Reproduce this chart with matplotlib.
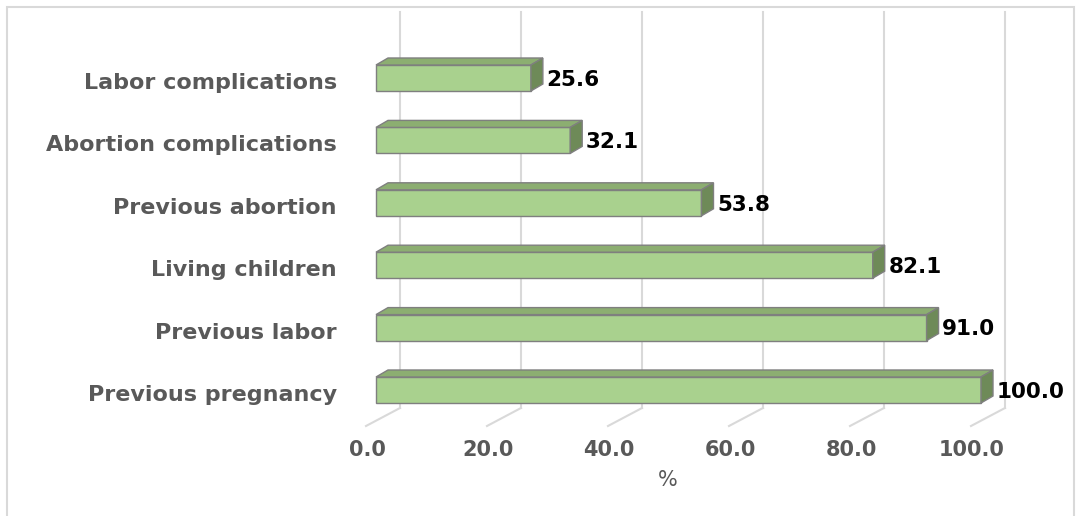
import numpy as np
import matplotlib.pyplot as plt
from matplotlib.patches import Polygon, Rectangle

categories = ['Previous pregnancy', 'Previous labor', 'Living children',
              'Previous abortion', 'Abortion complications', 'Labor complications']
values = [100.0, 91.0, 82.1, 53.8, 32.1, 25.6]
ticks = [0, 20, 40, 60, 80, 100]
tick_labels = ['0.0', '20.0', '40.0', '60.0', '80.0', '100.0']

front = '#A9D18E'
top_c = '#8CAE71'
side_c = '#6E8A58'
edge = '#7F7F7F'
grid_c = '#D9D9D9'
text_c = '#595959'

W, H = 1078, 516
fig = plt.figure(figsize=(W / 100, H / 100), dpi=100)
ax = fig.add_axes([0, 0, 1, 1])

# px -> data scaling: 6.05 px per %, 62.4 px per category
sx, sy = 6.05, 62.4
x0_px, y0_px = 376, 390
ax.set_xlim(-x0_px / sx, (W - x0_px) / sx)
ax.set_ylim((y0_px - H) / sy, y0_px / sy)
ax.axis('off')

h = 26 / sy          # bar front height
dx, dy = 12 / sx, 7 / sy   # bar depth

# back wall gridlines + floor diagonals
for t in ticks:
    bx = t + 24 / sx
    ax.plot([bx, bx], [(y0_px - 12) / sy, (y0_px - 408) / sy], color=grid_c, lw=1.5, zorder=1)
    ax.plot([bx, t - 10 / sx], [(y0_px - 408) / sy, (y0_px - 426) / sy], color=grid_c, lw=1.5, zorder=1)

y = np.arange(len(categories))
ax.barh(y, values, height=h, left=0, color=front, edgecolor=edge, lw=1, zorder=3)
for yi, v in zip(y, values):
    t_ = yi + h / 2
    b_ = yi - h / 2
    ax.add_patch(Polygon([(0, t_), (v, t_), (v + dx, t_ + dy), (dx, t_ + dy)],
                         closed=True, fc=top_c, ec=edge, lw=1, zorder=3))
    ax.add_patch(Polygon([(v, b_), (v + dx, b_ + dy), (v + dx, t_ + dy), (v, t_)],
                         closed=True, fc=side_c, ec=edge, lw=1, zorder=3))
    ax.text(v + dx + 0.6, yi - 0.03, f'{v:.1f}', ha='left', va='center',
            fontsize=15.5, fontweight='bold', color='black', zorder=4)

for yi, c in zip(y, categories):
    ax.text(-39 / sx, yi - 0.08, c, ha='right', va='center', fontsize=16,
            fontweight='bold', color=text_c)

for t, lab in zip(ticks, tick_labels):
    ax.text(t - 9 / sx, (y0_px - 450) / sy, lab, ha='center', va='center',
            fontsize=15, fontweight='bold', color=text_c)

ax.text((668 - x0_px) / sx, (y0_px - 480) / sy, '%', ha='center', va='center',
        fontsize=15, color=text_c)

fig.add_artist(Rectangle((7 / W, -0.05), (W - 11) / W, 1.05 - 7 / H,
                         transform=fig.transFigure, fill=False, ec=grid_c, lw=1.5))

fig.savefig('out.png', dpi=100)
